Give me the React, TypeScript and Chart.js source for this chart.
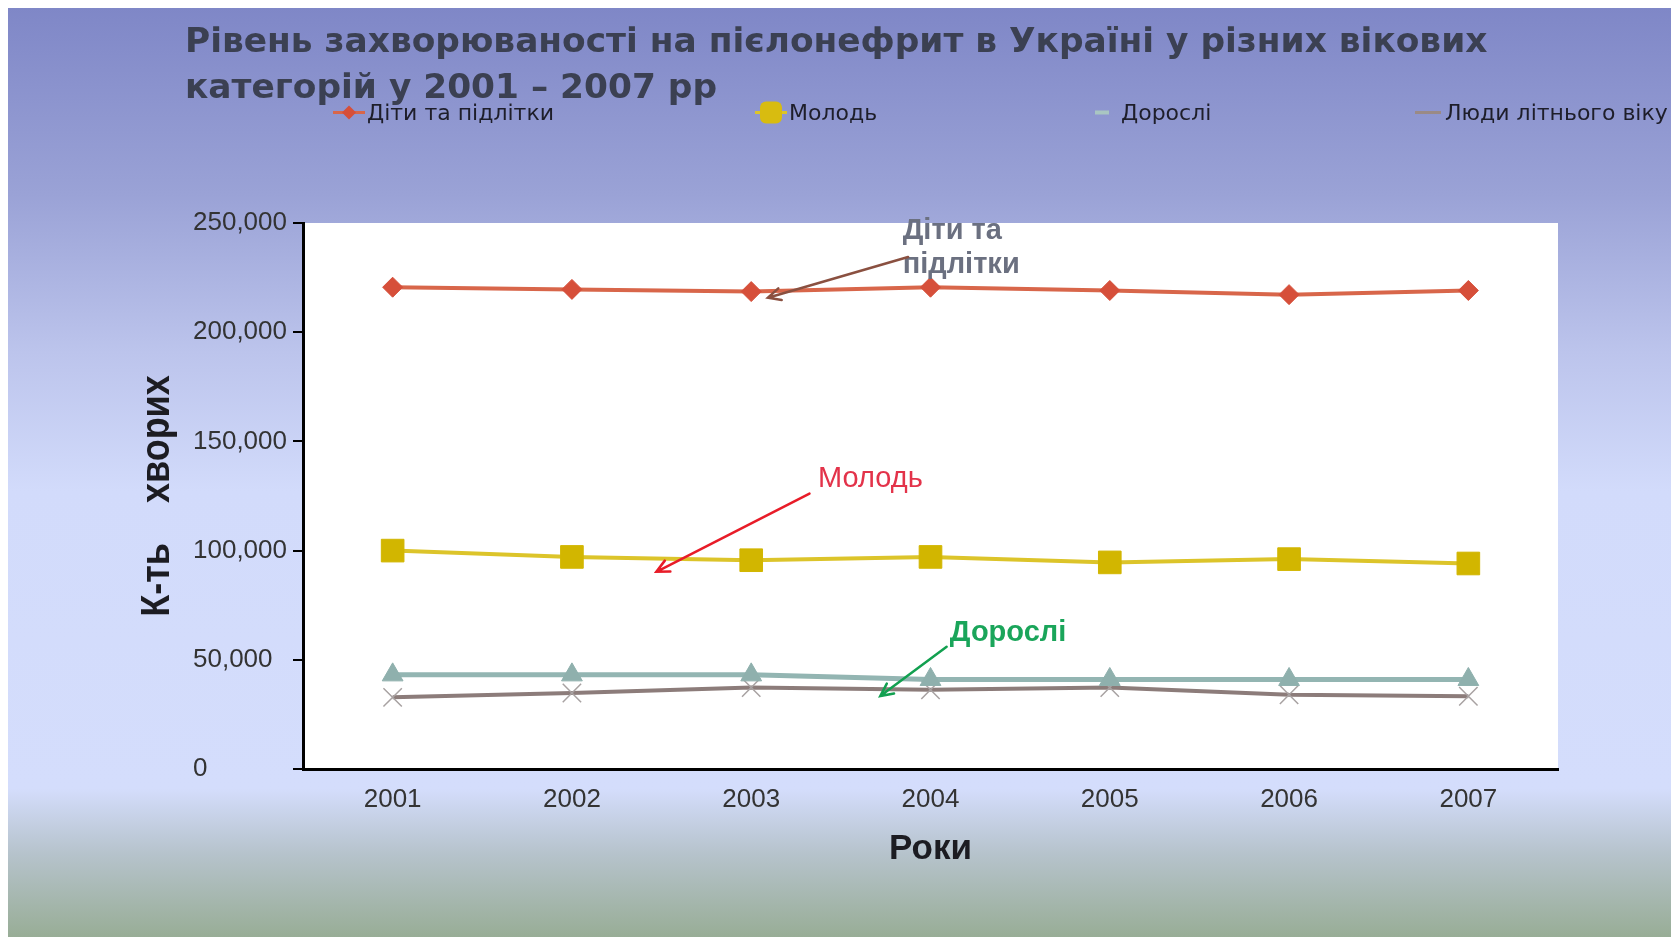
import React, { useEffect, useRef } from "react";
import { Chart, registerables } from "chart.js";

Chart.register(...registerables);

// ---- data ----
const years = ["2001", "2002", "2003", "2004", "2005", "2006", "2007"];
const seriesNames = ["Діти та підлітки", "Молодь", "Дорослі", "Люди літнього віку"];
const childrenValues = [220600, 219600, 218600, 220600, 219100, 217200, 219100];
const youthValues = [100000, 97100, 95600, 97100, 94600, 96100, 94100];
const adultValues = [43100, 43100, 43100, 41000, 41000, 41000, 41000];
const elderlyValues = [32800, 34800, 37300, 36300, 37300, 34000, 33300];
const yTickValues = [0, 50000, 100000, 150000, 200000, 250000];

const titleLines = [
  "Рівень захворюваності на пієлонефрит в Україні у різних вікових",
  "категорій у 2001 – 2007 рр",
];
const xAxisTitle = "Роки";
const yAxisTitle = "К-ть    хворих";

// callouts (text + arrow), anchored in data space: [category index, value]
const calloutTexts = [["Діти та", "підлітки"], ["Молодь"], ["Дорослі"]];
const calloutAnchors = [[2.845, 246200], [2.373, 133000], [3.108, 62400]];
const arrowStarts = [[2.875, 234400], [2.325, 126100], [3.09, 55950]];
const arrowEnds = [[2.093, 215800], [1.471, 90300], [2.72, 33400]];

// ---- styles ----
const lineColors = ["#d8664a", "#dcc42a", "#93b5b2", "#8c7c7a"];
const pointColors = ["#d64f3a", "#d2b600", "#8fb0ad", "#a8a2a2"];
const calloutColors = ["#6b7080", "#e3334a", "#1aa55a"];
const calloutFonts = [
  'bold 29px "Liberation Sans", Arial, sans-serif',
  '29px "Liberation Sans", Arial, sans-serif',
  'bold 29px "Liberation Sans", Arial, sans-serif',
];
const arrowColors = ["#8a5040", "#e81c28", "#12a050"];
const legendLefts = [325, 747, 1079, 1403];

const W = 1671;
const H = 929;

function LegendIcon({ i }: { i: number }) {
  if (i === 0)
    return (
      <svg width="32" height="20">
        <line x1="0" y1="10" x2="32" y2="10" stroke={lineColors[0]} strokeWidth="3" />
        <polygon points="16,3 23,10 16,17 9,10" fill={pointColors[0]} />
      </svg>
    );
  if (i === 1)
    return (
      <svg width="32" height="24">
        <line x1="0" y1="12" x2="32" y2="12" stroke={lineColors[1]} strokeWidth="3" />
        <rect x="5" y="1" width="22" height="22" rx="6" fill="#d8bc10" />
      </svg>
    );
  if (i === 2)
    return (
      <svg width="32" height="20">
        <line x1="8" y1="10" x2="22" y2="10" stroke="#a9c6c2" strokeWidth="4" />
      </svg>
    );
  return (
    <svg width="32" height="20">
      <line x1="4" y1="10" x2="30" y2="10" stroke="#9a8a86" strokeWidth="3" />
    </svg>
  );
}

export default function App() {
  const canvasRef = useRef<HTMLCanvasElement | null>(null);

  useEffect(() => {
    const canvas = canvasRef.current;
    if (!canvas) return;

    const decorPlugin = {
      id: "decor",
      beforeDraw(chart: any) {
        const { ctx, chartArea: ca } = chart;
        ctx.save();
        ctx.fillStyle = "#ffffff";
        ctx.fillRect(ca.left, ca.top, ca.right - ca.left, ca.bottom - ca.top);
        ctx.restore();
      },
      afterDatasetsDraw(chart: any) {
        const { ctx } = chart;
        const xs = chart.scales.x;
        const ys = chart.scales.y;
        ctx.save();
        calloutTexts.forEach((lines, i) => {
          const x = xs.getPixelForValue(calloutAnchors[i][0]);
          const y = ys.getPixelForValue(calloutAnchors[i][1]);
          ctx.font = calloutFonts[i];
          ctx.fillStyle = calloutColors[i];
          ctx.textAlign = "left";
          ctx.textBaseline = "middle";
          lines.forEach((t, j) => ctx.fillText(t, x, y + j * 34));

          const x1 = xs.getPixelForValue(arrowStarts[i][0]);
          const y1 = ys.getPixelForValue(arrowStarts[i][1]);
          const x2 = xs.getPixelForValue(arrowEnds[i][0]);
          const y2 = ys.getPixelForValue(arrowEnds[i][1]);
          ctx.strokeStyle = arrowColors[i];
          ctx.lineWidth = 2.5;
          ctx.lineCap = "round";
          ctx.beginPath();
          ctx.moveTo(x1, y1);
          ctx.lineTo(x2, y2);
          const ang = Math.atan2(y2 - y1, x2 - x1);
          const hl = 14;
          const spread = 0.45;
          ctx.moveTo(x2 - hl * Math.cos(ang - spread), y2 - hl * Math.sin(ang - spread));
          ctx.lineTo(x2, y2);
          ctx.lineTo(x2 - hl * Math.cos(ang + spread), y2 - hl * Math.sin(ang + spread));
          ctx.stroke();
        });
        ctx.restore();
      },
      afterDraw(chart: any) {
        const { ctx, chartArea: ca } = chart;
        ctx.save();
        ctx.fillStyle = "#1c1c22";
        ctx.textAlign = "center";
        ctx.textBaseline = "middle";
        ctx.font = 'bold 35px "Liberation Sans", Arial, sans-serif';
        ctx.fillText(xAxisTitle, (ca.left + ca.right) / 2, ca.bottom + 80);
        ctx.translate(150, (ca.top + ca.bottom) / 2);
        ctx.rotate(-Math.PI / 2);
        ctx.scale(1, 1.15);
        ctx.font = 'bold 36px "Liberation Sans", Arial, sans-serif';
        ctx.fillText(yAxisTitle, 0, 0);
        ctx.restore();
      },
    };

    const tickFont = { family: '"Liberation Sans", Arial, sans-serif', size: 26 };

    const chart = new Chart(canvas, {
      type: "line",
      data: {
        labels: years,
        datasets: [
          {
            label: seriesNames[0],
            data: childrenValues,
            borderColor: lineColors[0],
            borderWidth: 4,
            pointStyle: "rectRot",
            pointRadius: 10,
            pointBackgroundColor: pointColors[0],
            pointBorderColor: pointColors[0],
            pointBorderWidth: 1,
          },
          {
            label: seriesNames[1],
            data: youthValues,
            borderColor: lineColors[1],
            borderWidth: 4,
            pointStyle: "rect",
            pointRadius: 16,
            pointBackgroundColor: pointColors[1],
            pointBorderColor: pointColors[1],
            pointBorderWidth: 1,
          },
          {
            label: seriesNames[2],
            data: adultValues,
            borderColor: lineColors[2],
            borderWidth: 5,
            pointStyle: "triangle",
            pointRadius: 12,
            pointBackgroundColor: pointColors[2],
            pointBorderColor: pointColors[2],
            pointBorderWidth: 1,
          },
          {
            label: seriesNames[3],
            data: elderlyValues,
            borderColor: lineColors[3],
            borderWidth: 4,
            pointStyle: "crossRot",
            pointRadius: 13,
            pointBackgroundColor: pointColors[3],
            pointBorderColor: pointColors[3],
            pointBorderWidth: 1.5,
          },
        ],
      },
      options: {
        responsive: false,
        animation: false,
        layout: { padding: { left: 185, top: 215, right: 121, bottom: 108 } },
        elements: { line: { tension: 0 } },
        plugins: {
          legend: { display: false },
          title: { display: false },
          tooltip: { enabled: false },
        },
        scales: {
          x: {
            type: "category",
            offset: true,
            afterFit: (s: any) => {
              s.height = 60;
            },
            border: { display: true, color: "#000", width: 3 },
            grid: { display: true, drawOnChartArea: false, drawTicks: false },
            ticks: { padding: 15, color: "#333", font: tickFont, maxRotation: 0, autoSkip: false },
          },
          y: {
            min: 0,
            max: 250000,
            afterBuildTicks: (s: any) => {
              s.ticks = yTickValues.map((v) => ({ value: v }));
            },
            afterFit: (s: any) => {
              s.width = 110;
            },
            border: { display: true, color: "#000", width: 3 },
            grid: {
              display: true,
              drawOnChartArea: false,
              drawTicks: true,
              tickLength: 10,
              color: "#000",
              lineWidth: 2,
            },
            ticks: { crossAlign: "far", padding: 6, color: "#333", font: tickFont },
          },
        },
      },
      plugins: [decorPlugin],
    } as any);

    return () => chart.destroy();
  }, []);

  return (
    <div
      style={{
        position: "relative",
        width: W,
        height: H,
        overflow: "hidden",
        background:
          "linear-gradient(to bottom, #7f87c7 0%, #9aa2d6 20%, #bcc4ec 37%, #d2dbfb 52%, #d4ddfc 84%, #b6c3cc 91%, #98ad96 100%)",
      }}
    >
      <canvas ref={canvasRef} width={W} height={H} style={{ position: "absolute", left: 0, top: 0 }} />
      <div
        style={{
          position: "absolute",
          left: 177,
          top: 9,
          fontFamily: '"DejaVu Sans", Verdana, sans-serif',
          fontWeight: "bold",
          fontSize: 34.4,
          lineHeight: "46px",
          color: "#3b4052",
          whiteSpace: "nowrap",
        }}
      >
        {titleLines.map((t, i) => (
          <div key={i}>{t}</div>
        ))}
      </div>
      {seriesNames.map((name, i) => (
        <div
          key={name}
          style={{
            position: "absolute",
            left: legendLefts[i],
            top: 104,
            transform: "translateY(-50%)",
            display: "flex",
            alignItems: "center",
            gap: 2,
            fontFamily: '"DejaVu Sans", Verdana, sans-serif',
            fontSize: 22,
            color: "#1e1e2a",
            whiteSpace: "nowrap",
          }}
        >
          <LegendIcon i={i} />
          <span>{name}</span>
        </div>
      ))}
    </div>
  );
}
